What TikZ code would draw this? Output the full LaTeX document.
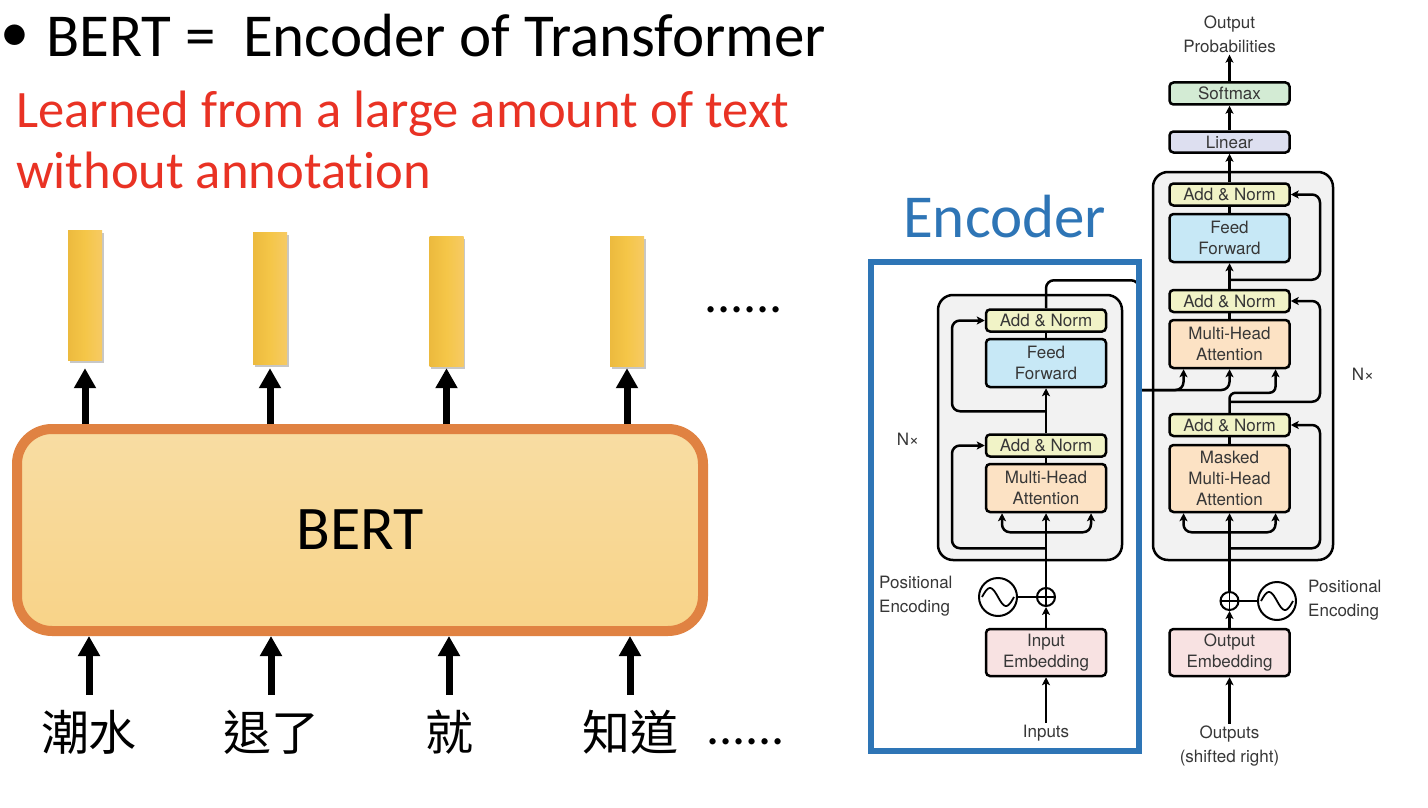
\documentclass[tikz,border=0pt]{standalone}
\usepackage{fontspec}
\setmainfont{Carlito}[Ligatures={NoCommon}]
\newfontfamily\helv{TeX Gyre Heros}
\newfontfamily\cjk{Noto Sans CJK TC}
\usetikzlibrary{arrows.meta,shadows,calc}
\definecolor{redtxt}{RGB}{233,50,36}
\definecolor{enccol}{RGB}{46,117,182}
\definecolor{bertedge}{RGB}{224,130,66}
\definecolor{berttop}{RGB}{248,221,163}
\definecolor{bertbot}{RGB}{248,211,136}
\definecolor{barL}{RGB}{236,186,62}
\definecolor{barM}{RGB}{245,198,72}
\definecolor{barR}{RGB}{246,202,100}
\definecolor{anfill}{RGB}{241,243,199}
\definecolor{fffill}{RGB}{199,232,246}
\definecolor{mhafill}{RGB}{252,226,196}
\definecolor{embfill}{RGB}{248,226,226}
\definecolor{linfill}{RGB}{221,223,240}
\definecolor{smfill}{RGB}{211,235,212}
\definecolor{grayfill}{RGB}{242,242,242}
\definecolor{ttext}{RGB}{55,55,55}
\tikzset{
  tbox/.style={draw=black, line width=2.5pt, rounded corners=4pt, minimum width=120pt,
    inner sep=0pt, font=\helv\fontsize{17}{21}\selectfont, text=ttext, align=center},
  anbox/.style={tbox, fill=anfill, minimum height=22pt},
  ffbox/.style={tbox, fill=fffill, minimum height=48pt},
  mhabox/.style={tbox, fill=mhafill, minimum height=48pt},
  embbox/.style={tbox, fill=embfill, minimum height=47pt},
  graybox/.style={draw=black, line width=2.5pt, rounded corners=15pt, fill=grayfill},
  tlabel/.style={font=\helv\fontsize{17}{24}\selectfont, text=ttext, inner sep=2pt},
  tline/.style={line width=2.5pt, draw=black},
  tarrow/.style={tline, -{Stealth[length=8pt,width=8pt,inset=2pt]}},
  bar/.style={minimum width=34pt, minimum height=130pt, inner sep=0pt,
    left color=barL, right color=barR, middle color=barM,
    drop shadow={shadow xshift=1.5pt, shadow yshift=-2.5pt, fill=black, opacity=0.22}},
  bigarrow/.style={line width=7pt, -{Triangle[length=20pt,width=21pt]}},
  word/.style={font=\cjk\fontsize{48}{56}\selectfont, text height=40pt, text depth=4pt, inner xsep=0pt, inner ysep=15pt},
  sinecirc/.style={draw=black, circle, line width=2pt, minimum size=38pt, inner sep=0pt},
  pluscirc/.style={draw=black, circle, line width=2pt, minimum size=18pt, inner sep=0pt},
}
\begin{document}
\begin{tikzpicture}[x=1pt,y=-1pt]
\useasboundingbox (0,0) rectangle (1428,808);
\fill[white] (0,0) rectangle (1428,808);

% ---------------- left part ----------------
\node[font=\fontsize{58}{70}\selectfont] (bullet) at (15,38) {•};
\node[anchor=base west, inner sep=0pt, font=\fontsize{61}{70}\selectfont] (title) at (46,57) {BERT = \ Encoder of Transformer};
\node[anchor=base west, inner sep=0pt, text=redtxt, font=\fontsize{52.6}{60}\selectfont] (red1) at (16,128) {Learned from a large amount of text};
\node[anchor=base west, inner sep=0pt, text=redtxt, font=\fontsize{52.6}{60}\selectfont] (red2) at (16,188) {without annotation};

\node[draw=bertedge, line width=10pt, rounded corners=35pt, top color=berttop, bottom color=bertbot,
  minimum width=686pt, minimum height=202pt, font=\fontsize{62}{70}\selectfont] (bert) at (360,530) {BERT};

\node[bar] (bar1) at (85,295) {};
\node[bar, minimum height=132pt] (bar2) at (270,298) {};
\node[bar] (bar3) at (446.5,301) {};
\node[bar] (bar4) at (627,301) {};

\draw[bigarrow] (bert.north -| bar1.south) -- ([yshift=-8pt]bar1.south);
\draw[bigarrow] (bert.north -| bar2.south) -- ([yshift=-4pt]bar2.south);
\draw[bigarrow] (bert.north -| bar3.south) -- ([yshift=-2pt]bar3.south);
\draw[bigarrow] (bert.north -| bar4.south) -- ([yshift=-2pt]bar4.south);

\node[anchor=base west, inner sep=0pt, font=\fontsize{52}{60}\selectfont] (dotsT) at (704,312) {......};

\node[word] (w1) at (89,732) {潮水};
\node[word] (w2) at (271,732) {退了};
\node[word] (w3) at (449,732) {就};
\node[word] (w4) at (630,732) {知道};
\node[anchor=base west, inner sep=0pt, font=\fontsize{52}{60}\selectfont] (dotsB) at (706,744) {......};

\draw[bigarrow] (w1.north) -- (w1.north |- bert.south);
\draw[bigarrow] (w2.north) -- (w2.north |- bert.south);
\draw[bigarrow] (w3.north) -- (w3.north |- bert.south);
\draw[bigarrow] (w4.north) -- (w4.north |- bert.south);

% ---------------- transformer ----------------
\node[anchor=base west, inner sep=0pt, text=enccol, font=\fontsize{61}{70}\selectfont] (enclabel) at (903,237) {Encoder};

\node[graybox, minimum width=184pt, minimum height=265pt] (encBlock) at (1030,427.5) {};
\node[graybox, minimum width=180pt, minimum height=388pt] (decBlock) at (1243,366) {};

% encoder boxes
\node[anbox] (encAN2) at (1046,320.5) {Add \& Norm};
\node[ffbox] (encFF) at (1046,363) {Feed\\Forward};
\node[anbox] (encAN1) at (1046,445.5) {Add \& Norm};
\node[mhabox] (encMHA) at (1046,488) {Multi-Head\\Attention};
\node[embbox] (encEmb) at (1046,652.5) {Input\\Embedding};
\node[pluscirc] (encPlus) at (1046,597) {};
\node[sinecirc] (encSine) at (998,597) {};
\node[tlabel] (encIn) at (1046,733) {Inputs};
\node[tlabel, align=left, anchor=west] (encPE) at (877,596) {Positional\\Encoding};
\node[tlabel] (encN) at (908,439) {N×};

% decoder boxes
\node[tbox, fill=smfill, minimum height=22pt] (softmax) at (1229.5,93.5) {Softmax};
\node[tbox, fill=linfill, minimum height=21pt] (linear) at (1229.5,142) {Linear};
\node[anbox] (decAN3) at (1229.5,194.5) {Add \& Norm};
\node[ffbox] (decFF) at (1229.5,238) {Feed\\Forward};
\node[anbox] (decAN2) at (1229.5,301) {Add \& Norm};
\node[mhabox] (decMHA) at (1229.5,344) {Multi-Head\\Attention};
\node[anbox] (decAN1) at (1229.5,425) {Add \& Norm};
\node[mhabox, minimum height=67pt] (decMMHA) at (1229.5,478.5) {Masked\\Multi-Head\\Attention};
\node[embbox] (decEmb) at (1229.5,652.5) {Output\\Embedding};
\node[pluscirc] (decPlus) at (1229.5,601) {};
\node[sinecirc] (decSine) at (1277,601) {};
\node[tlabel, align=center] (decOut) at (1229.5,746) {Outputs\\(shifted right)};
\node[tlabel, align=left, anchor=west] (decPE) at (1306,600) {Positional\\Encoding};
\node[tlabel] (decN) at (1363,374) {N×};
\node[tlabel, align=center] (outprob) at (1229.5,34) {Output\\Probabilities};

\coordinate (eL) at (952,0);
\coordinate (dR) at (1320,0);
\coordinate (encout) at (1139,390);

% sine waves and plus signs
\draw[line width=1.8pt] plot[domain=-1:1, samples=40, smooth] ({998+16*\x},{597-9*sin(180*(\x+1))});
\draw[line width=1.8pt] plot[domain=-1:1, samples=40, smooth] ({1277+16*\x},{601-9*sin(180*(\x+1))});
\draw[line width=1.8pt] (encPlus.north) -- (encPlus.south) (encPlus.west) -- (encPlus.east);
\draw[line width=1.8pt] (decPlus.north) -- (decPlus.south) (decPlus.west) -- (decPlus.east);

% encoder connectors
\draw[tarrow] (encIn.north) -- (encEmb.south);
\draw[tarrow] (encEmb.north) -- (encPlus.south);
\draw[tline] (encSine.east) -- (encPlus.west);
\draw[tarrow] (encPlus.north) -- (encMHA.south);
\draw[tarrow, rounded corners=8pt] ([yshift=-19pt]encMHA.south) -| ([xshift=-44pt]encMHA.south);
\draw[tarrow, rounded corners=8pt] ([yshift=-19pt]encMHA.south) -| ([xshift=45pt]encMHA.south);
\draw[tarrow, rounded corners=8pt] ([yshift=-35pt]encMHA.south) -| (eL |- encAN1.west) -- (encAN1.west);
\draw[tline] (encMHA.north) -- (encAN1.south);
\draw[tarrow] (encAN1.north) -- (encFF.south);
\draw[tarrow, rounded corners=8pt] ([yshift=22pt]encAN1.north) -| (eL |- encAN2.west) -- (encAN2.west);
\draw[tline] (encFF.north) -- (encAN2.south);
\draw[tline, rounded corners=8pt] (encAN2.north) |- ([yshift=28pt]encAN2.north -| encout) -- (encout);

% decoder connectors
\draw[tarrow, rounded corners=8pt] (encout) -| ([xshift=-46pt]decMHA.south);
\draw[tarrow, rounded corners=8pt] (encout) -| (decMHA.south);
\draw[tarrow] (decOut.north) -- (decEmb.south);
\draw[tarrow] (decEmb.north) -- (decPlus.south);
\draw[tline] (decSine.west) -- (decPlus.east);
\draw[tarrow] (decPlus.north) -- (decMMHA.south);
\draw[tarrow, rounded corners=8pt] ([yshift=-19pt]decMMHA.south) -| ([xshift=-46pt]decMMHA.south);
\draw[tarrow, rounded corners=8pt] ([yshift=-19pt]decMMHA.south) -| ([xshift=46pt]decMMHA.south);
\draw[tarrow, rounded corners=8pt] ([yshift=-35pt]decMMHA.south) -| (dR |- decAN1.east) -- (decAN1.east);
\draw[tline] (decMMHA.north) -- (decAN1.south);
\draw[tarrow, rounded corners=6pt] (decAN1.north) -- ([yshift=20pt]decAN1.north) -| ([xshift=46pt]decMHA.south);
\draw[tarrow, rounded corners=8pt] ([yshift=11pt]decAN1.north) -| (dR |- decAN2.east) -- (decAN2.east);
\draw[tline] (decMHA.north) -- (decAN2.south);
\draw[tarrow] (decAN2.north) -- (decFF.south);
\draw[tarrow, rounded corners=8pt] ([yshift=9pt]decAN2.north) -| (dR |- decAN3.east) -- (decAN3.east);
\draw[tline] (decFF.north) -- (decAN3.south);
\draw[tarrow] (decAN3.north) -- (linear.south);
\draw[tarrow] (linear.north) -- (softmax.south);
\draw[tarrow] (softmax.north) -- (outprob.south);

% blue encoder frame on top
\node[draw=enccol, line width=6.5pt, minimum width=268pt, minimum height=489pt, inner sep=0pt] (encFrame) at (1005,506.5) {};
\end{tikzpicture}
\end{document}
